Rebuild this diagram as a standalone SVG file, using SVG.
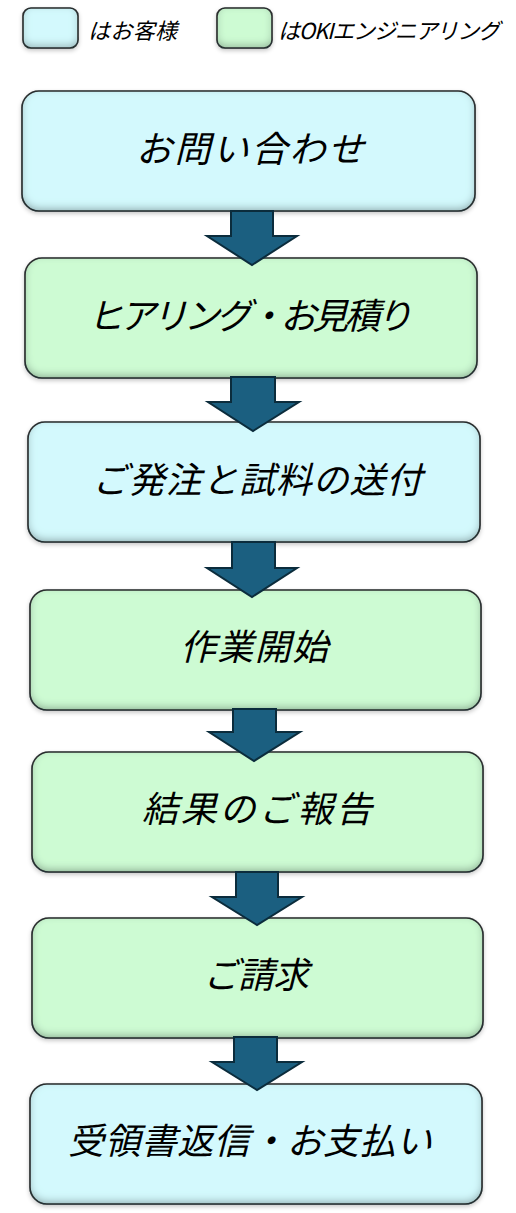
<svg xmlns="http://www.w3.org/2000/svg" width="516" height="1213" viewBox="0 0 516 1213">
<defs>
<style>
.box{stroke:#2e2e2e;stroke-width:1.6;filter:url(#bev)}
.blue{fill:#d3f9fd}
.green{fill:#cdfbd3}
.lbl{font-family:"Noto Sans CJK JP","Noto Sans",sans-serif;font-style:italic;font-size:36px;fill:#000;text-anchor:middle}
.leg{font-family:"Noto Sans CJK JP","Noto Sans",sans-serif;font-style:italic;font-size:22px;fill:#000}
.arrow{fill:#1b5f80;stroke:#0b2c3c;stroke-width:2;stroke-linejoin:miter}
</style>
<filter id="bev" x="-8%" y="-15%" width="116%" height="135%">
<feGaussianBlur in="SourceAlpha" stdDeviation="2" result="b"/>
<feOffset in="b" dy="2" result="ob"/>
<feFlood flood-color="#000" flood-opacity="0.22"/>
<feComposite in2="ob" operator="in" result="drop"/>
<feComponentTransfer in="SourceAlpha" result="inv"><feFuncA type="table" tableValues="1 0"/></feComponentTransfer>
<feGaussianBlur in="inv" stdDeviation="4.5" result="invb"/>
<feOffset in="invb" dy="-3" result="invo"/>
<feFlood flood-color="#1a3538" flood-opacity="0.65"/>
<feComposite in2="invo" operator="in" result="sh"/>
<feComposite in="sh" in2="SourceAlpha" operator="in" result="inner"/>
<feMerge><feMergeNode in="drop"/><feMergeNode in="SourceGraphic"/><feMergeNode in="inner"/></feMerge>
</filter>
</defs>
<rect width="516" height="1213" fill="#fff"/>

<g id="legend-customer">
<rect class="box blue" x="23" y="8" width="55" height="40" rx="8"/>
<text class="leg" x="88" y="39" textLength="89">はお客様</text>
</g>
<g id="legend-oki">
<rect class="box green" x="217" y="8" width="55" height="40" rx="8"/>
<text class="leg" x="278" y="39" textLength="222">はOKIエンジニアリング</text>
</g>

<g id="node1">
<rect class="box blue" x="22" y="91" width="453" height="120" rx="17"/>
<text class="lbl" x="250" y="162" textLength="228">お問い合わせ</text>
</g>
<g id="node2">
<rect class="box green" x="25" y="258" width="452" height="120" rx="17"/>
<text class="lbl" x="250" y="329" textLength="325">ヒアリング・お見積り</text>
</g>
<g id="node3">
<rect class="box blue" x="28" y="422" width="452" height="120" rx="17"/>
<text class="lbl" x="257" y="493" textLength="330">ご発注と試料の送付</text>
</g>
<g id="node4">
<rect class="box green" x="30" y="590" width="451" height="120" rx="17"/>
<text class="lbl" x="254" y="660" textLength="148">作業開始</text>
</g>
<g id="node5">
<rect class="box green" x="32" y="752" width="451" height="120" rx="17"/>
<text class="lbl" x="257" y="822" textLength="230">結果のご報告</text>
</g>
<g id="node6">
<rect class="box green" x="32" y="918" width="451" height="120" rx="17"/>
<text class="lbl" x="256" y="988" textLength="106">ご請求</text>
</g>
<g id="node7">
<rect class="box blue" x="30" y="1084" width="452" height="120" rx="17"/>
<text class="lbl" x="250" y="1154" textLength="364">受領書返信・お支払い</text>
</g>

<g id="connectors">
<polygon class="arrow" points="231,211 273,211 273,236 297,236 252,265 207,236 231,236"/>
<polygon class="arrow" points="231,377 275,377 275,402 299,402 253,431 208,402 231,402"/>
<polygon class="arrow" points="232,542 275,542 275,568 297,568 252,597 207,568 232,568"/>
<polygon class="arrow" points="233,709 276,709 276,732 300,732 254,761 209,732 233,732"/>
<polygon class="arrow" points="236,872 278,872 278,897 302,897 257,925 212,897 236,897"/>
<polygon class="arrow" points="234,1037 277,1037 277,1062 302,1062 257,1090 212,1062 234,1062"/>
</g>
</svg>
